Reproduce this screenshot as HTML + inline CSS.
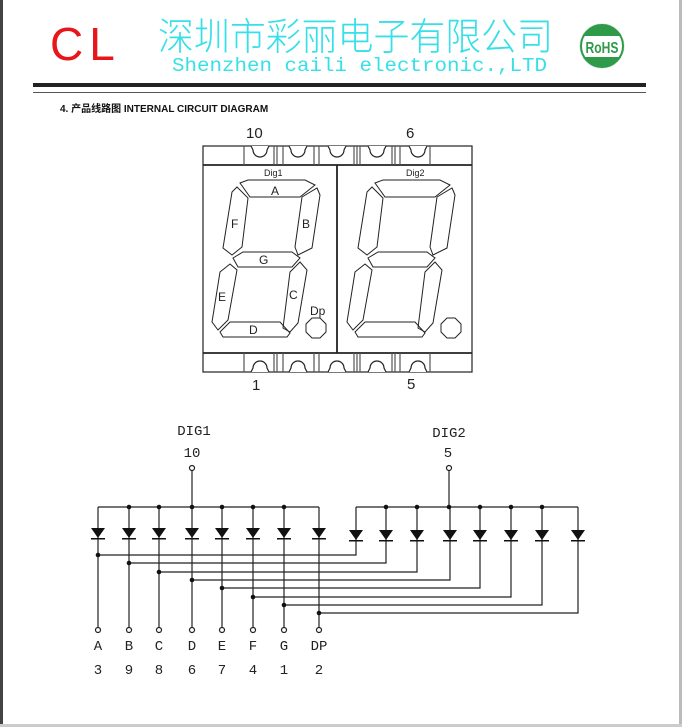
<!DOCTYPE html>
<html><head><meta charset="utf-8"><style>
html,body{margin:0;padding:0;background:#fff;}
body{width:682px;height:727px;overflow:hidden;position:relative;}
svg{position:absolute;left:0;top:0;}
</style></head><body>
<svg width="682" height="727" viewBox="0 0 682 727" xmlns="http://www.w3.org/2000/svg">
<rect x="0" y="0" width="682" height="727" fill="#fff"/>
<rect x="0" y="0" width="3" height="727" fill="#444"/>
<rect x="679" y="0" width="3" height="727" fill="#bbb"/>
<rect x="0" y="724" width="682" height="3" fill="#ccc"/>
<!-- header -->
<text x="50" y="60" font-family="Liberation Sans, sans-serif" font-size="46" fill="#e8161b" letter-spacing="6">CL</text>
<text x="158" y="50" font-family="Liberation Sans, 'Noto Sans CJK SC', sans-serif" font-size="38" fill="#37e0e8" font-weight="300" textLength="395" lengthAdjust="spacingAndGlyphs">深圳市彩丽电子有限公司</text>
<text x="172" y="71" font-family="Liberation Mono, monospace" font-size="19" fill="#37e0e8" textLength="375" lengthAdjust="spacingAndGlyphs">Shenzhen caili electronic.,LTD</text>
<circle cx="602" cy="46" r="21" fill="#2e9a4a"/>
<circle cx="602" cy="46" r="22" fill="none" stroke="#cde6d2" stroke-width="1"/>
<rect x="581" y="36" width="42" height="21" fill="#fff"/>
<circle cx="602" cy="46" r="21" fill="none" stroke="#2e9a4a" stroke-width="2"/>
<text x="602" y="53" text-anchor="middle" font-family="Liberation Sans, sans-serif" font-size="16" font-weight="bold" fill="#2e9a4a" textLength="33" lengthAdjust="spacingAndGlyphs">RoHS</text>
<rect x="33" y="83" width="613" height="4" fill="#222"/>
<rect x="33" y="92" width="613" height="1" fill="#555"/>
<text x="60" y="112" font-family="Liberation Sans, 'Noto Sans CJK SC', sans-serif" font-size="10" font-weight="bold" fill="#111">4.  产品线路图 INTERNAL CIRCUIT DIAGRAM</text>

<g fill="none" stroke="#222" stroke-width="1.2">
<!-- display outline -->
<rect x="203" y="146" width="269" height="226"/>
<line x1="203" y1="165" x2="472" y2="165" stroke-width="1.8"/>
<line x1="203" y1="353" x2="472" y2="353" stroke-width="1.8"/>
<line x1="337" y1="165" x2="337" y2="353" stroke-width="1.8"/>
<g stroke="#555">
<line x1="244" y1="146" x2="244" y2="165"/><line x1="274" y1="146" x2="274" y2="165"/><line x1="277" y1="146" x2="277" y2="165"/><line x1="283" y1="146" x2="283" y2="165"/>
<line x1="314" y1="146" x2="314" y2="165"/><line x1="319" y1="146" x2="319" y2="165"/><line x1="354" y1="146" x2="354" y2="165"/><line x1="357" y1="146" x2="357" y2="165"/><line x1="360" y1="146" x2="360" y2="165"/>
<line x1="392" y1="146" x2="392" y2="165"/><line x1="395" y1="146" x2="395" y2="165"/><line x1="400" y1="146" x2="400" y2="165"/><line x1="430" y1="146" x2="430" y2="165"/>
<line x1="244" y1="353" x2="244" y2="372"/><line x1="274" y1="353" x2="274" y2="372"/><line x1="277" y1="353" x2="277" y2="372"/><line x1="283" y1="353" x2="283" y2="372"/>
<line x1="314" y1="353" x2="314" y2="372"/><line x1="319" y1="353" x2="319" y2="372"/><line x1="354" y1="353" x2="354" y2="372"/><line x1="357" y1="353" x2="357" y2="372"/><line x1="360" y1="353" x2="360" y2="372"/>
<line x1="392" y1="353" x2="392" y2="372"/><line x1="395" y1="353" x2="395" y2="372"/><line x1="400" y1="353" x2="400" y2="372"/><line x1="430" y1="353" x2="430" y2="372"/>
</g>
<!-- notches top -->
<g fill="#fff">
<path d="M251,146 L253,150 A7,7 0 0 0 267,150 L269,146"/>
<path d="M289,146 L291,150 A7,7 0 0 0 305,150 L307,146"/>
<path d="M328,146 L330,150 A7,7 0 0 0 344,150 L346,146"/>
<path d="M368,146 L370,150 A7,7 0 0 0 384,150 L386,146"/>
<path d="M409,146 L411,150 A7,7 0 0 0 425,150 L427,146"/>
<path d="M251,372 L253,368 A7,7 0 0 1 267,368 L269,372"/>
<path d="M289,372 L291,368 A7,7 0 0 1 305,368 L307,372"/>
<path d="M328,372 L330,368 A7,7 0 0 1 344,368 L346,372"/>
<path d="M368,372 L370,368 A7,7 0 0 1 384,368 L386,372"/>
<path d="M409,372 L411,368 A7,7 0 0 1 425,368 L427,372"/>
</g>
<!-- digit segments -->
<g id="dg" stroke-width="1">
<polygon points="240,183 248,180 305,180 315,185 300,197 250,197"/>
<polygon points="237,187 248,198 242,247 232,255 223,248 232,192"/>
<polygon points="317,188 320,195 312,248 298,255 295,247 302,197"/>
<polygon points="233,258 243,252 292,252 300,258 292,267 238,267"/>
<polygon points="230,264 237,270 228,320 218,330 212,322 220,272"/>
<polygon points="300,262 307,270 298,323 290,332 283,328 290,272"/>
<polygon points="220,332 230,322 280,322 290,333 287,337 223,337"/>
<polygon points="312,318 320,318 326,324 326,332 320,338 312,338 306,332 306,324"/>
</g>
<use href="#dg" transform="translate(135,0)"/>
</g>
<g font-family="Liberation Sans, sans-serif" fill="#222">
<text x="246" y="138" font-size="15">10</text>
<text x="406" y="138" font-size="15">6</text>
<text x="252" y="390" font-size="15">1</text>
<text x="407" y="389" font-size="15">5</text>
<text x="264" y="176" font-size="9">Dig1</text>
<text x="406" y="176" font-size="9">Dig2</text>
<g font-size="12">
<text x="271" y="195">A</text><text x="231" y="228">F</text><text x="302" y="228">B</text>
<text x="259" y="264">G</text><text x="218" y="301">E</text><text x="289" y="299">C</text>
<text x="249" y="334">D</text><text x="310" y="315">Dp</text>
</g>
</g>

<!-- schematic -->
<g font-family="Liberation Mono, monospace" fill="#222" font-size="14" text-anchor="middle">
<text x="194" y="435">DIG1</text><text x="192" y="457">10</text>
<text x="449" y="437">DIG2</text><text x="448" y="457">5</text>
<text x="98" y="650">A</text><text x="129" y="650">B</text><text x="159" y="650">C</text><text x="192" y="650">D</text>
<text x="222" y="650">E</text><text x="253" y="650">F</text><text x="284" y="650">G</text><text x="319" y="650">DP</text>
<text x="98" y="674">3</text><text x="129" y="674">9</text><text x="159" y="674">8</text><text x="192" y="674">6</text>
<text x="222" y="674">7</text><text x="253" y="674">4</text><text x="284" y="674">1</text><text x="319" y="674">2</text>
</g>
<g stroke="#222" stroke-width="1.2" fill="none">
<circle cx="192" cy="468" r="2.5"/><circle cx="449" cy="468" r="2.5"/>
<line x1="192" y1="471" x2="192" y2="507"/><line x1="449" y1="471" x2="449" y2="507"/>
<line x1="98" y1="507" x2="319" y2="507"/>
<line x1="356" y1="507" x2="578" y2="507"/>
<!-- left columns -->
<path d="M98,507V627 M129,507V627 M159,507V627 M192,507V627 M222,507V627 M253,507V627 M284,507V627 M319,507V627"/>
<g fill="#fff">
<circle cx="98" cy="630" r="2.5"/><circle cx="129" cy="630" r="2.5"/><circle cx="159" cy="630" r="2.5"/><circle cx="192" cy="630" r="2.5"/>
<circle cx="222" cy="630" r="2.5"/><circle cx="253" cy="630" r="2.5"/><circle cx="284" cy="630" r="2.5"/><circle cx="319" cy="630" r="2.5"/>
</g>
<!-- right columns + wires -->
<path d="M356,507V555H98 M386,507V563H129 M417,507V572H159 M450,507V580H192 M480,507V588H222 M511,507V597H253 M542,507V605H284 M578,507V613H319"/>
</g>
<g fill="#111">
<circle cx="129" cy="507" r="2.3"/><circle cx="159" cy="507" r="2.3"/><circle cx="192" cy="507" r="2.3"/><circle cx="222" cy="507" r="2.3"/><circle cx="253" cy="507" r="2.3"/><circle cx="284" cy="507" r="2.3"/>
<circle cx="386" cy="507" r="2.3"/><circle cx="417" cy="507" r="2.3"/><circle cx="449" cy="507" r="2.3"/><circle cx="480" cy="507" r="2.3"/><circle cx="511" cy="507" r="2.3"/><circle cx="542" cy="507" r="2.3"/>
<circle cx="98" cy="555" r="2.3"/><circle cx="129" cy="563" r="2.3"/><circle cx="159" cy="572" r="2.3"/><circle cx="192" cy="580" r="2.3"/>
<circle cx="222" cy="588" r="2.3"/><circle cx="253" cy="597" r="2.3"/><circle cx="284" cy="605" r="2.3"/><circle cx="319" cy="613" r="2.3"/>
<!-- diodes left -->
<g id="dl">
<path d="M91,528h14l-7,10z"/><rect x="91" y="538" width="14" height="1.5"/>
</g>
<use href="#dl" transform="translate(31,0)"/><use href="#dl" transform="translate(61,0)"/><use href="#dl" transform="translate(94,0)"/>
<use href="#dl" transform="translate(124,0)"/><use href="#dl" transform="translate(155,0)"/><use href="#dl" transform="translate(186,0)"/><use href="#dl" transform="translate(221,0)"/>
<use href="#dl" transform="translate(258,2)"/><use href="#dl" transform="translate(288,2)"/><use href="#dl" transform="translate(319,2)"/><use href="#dl" transform="translate(352,2)"/>
<use href="#dl" transform="translate(382,2)"/><use href="#dl" transform="translate(413,2)"/><use href="#dl" transform="translate(444,2)"/><use href="#dl" transform="translate(480,2)"/>
</g>
</svg>
</body></html>
